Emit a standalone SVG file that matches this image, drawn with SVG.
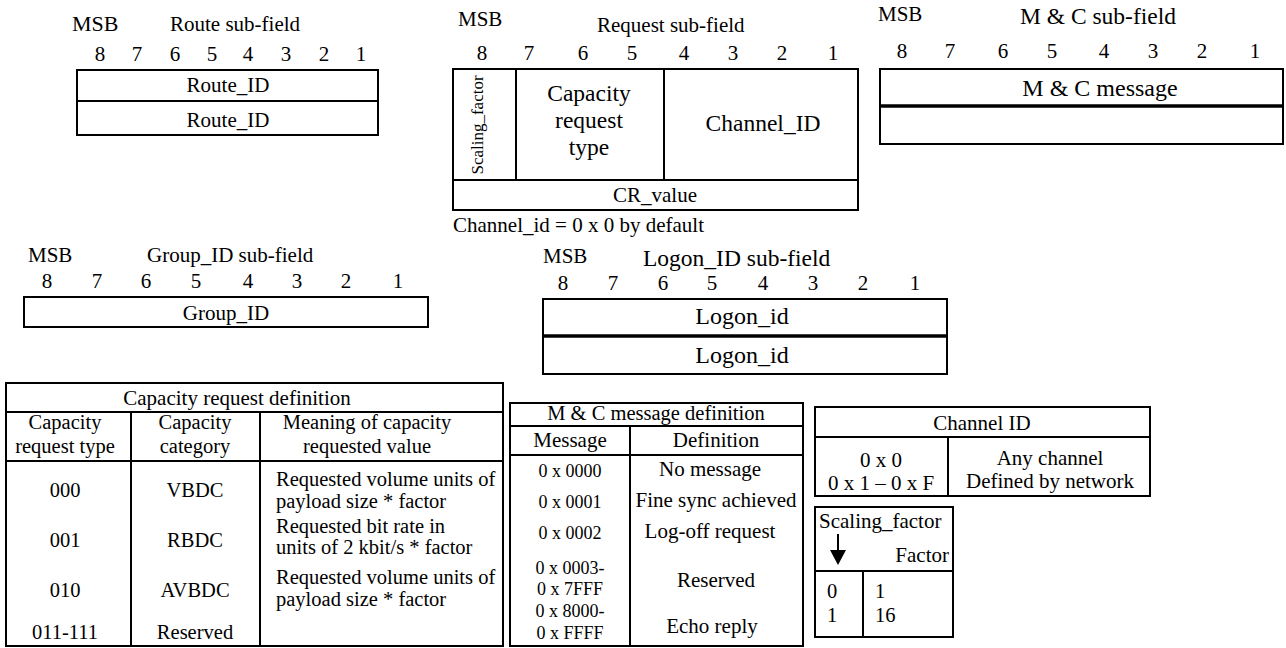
<svg xmlns="http://www.w3.org/2000/svg" width="1286" height="648" viewBox="0 0 1286 648">
<style>
text{font-family:"Liberation Serif","Times New Roman",serif;fill:#000;font-size:21px}
.c{text-anchor:middle}
.e{text-anchor:end}
.b{fill:none;stroke:#000;stroke-width:2}
.l{stroke:#000;stroke-width:2;fill:none}
.t{stroke:#000;stroke-width:3.5;fill:none}
.big{font-size:23.5px}
.s{font-size:18px}
.m{font-size:20.5px}
</style>
<rect width="1286" height="648" fill="#fff"/>

<g id="route">
<text x="72" y="31" style="font-size:22px">MSB</text>
<text x="170" y="31">Route sub-field</text>
<g class="c"><text x="100" y="61">8</text><text x="137" y="61">7</text><text x="175" y="61">6</text><text x="212" y="61">5</text><text x="248" y="61">4</text><text x="286" y="61">3</text><text x="324" y="61">2</text><text x="361" y="61">1</text></g>
<rect class="b" x="77" y="70" width="301" height="65"/>
<line class="l" x1="77" y1="101" x2="378" y2="101"/>
<text class="c" x="228" y="92">Route_ID</text>
<text class="c" x="228" y="127">Route_ID</text>
</g>

<g id="request">
<text x="458" y="26">MSB</text>
<text x="597" y="32">Request sub-field</text>
<g class="c"><text x="482" y="60">8</text><text x="529" y="60">7</text><text x="583" y="60">6</text><text x="632" y="60">5</text><text x="684" y="60">4</text><text x="733" y="60">3</text><text x="782" y="60">2</text><text x="833" y="60">1</text></g>
<rect class="b" x="453" y="69" width="405" height="141"/>
<line class="l" x1="453" y1="180" x2="858" y2="180"/>
<line class="l" x1="516" y1="69" x2="516" y2="180"/>
<line class="l" x1="664" y1="69" x2="664" y2="180"/>
<text class="c" transform="translate(483,125) rotate(-90)" style="font-size:17px">Scaling_factor</text>
<text class="c big" x="589" y="101">Capacity</text>
<text class="c big" x="589" y="128">request</text>
<text class="c big" x="589" y="155">type</text>
<text class="c big" x="763" y="131">Channel_ID</text>
<text class="c" x="655" y="202">CR_value</text>
<text x="453" y="232">Channel_id = 0 x 0 by default</text>
</g>

<g id="mc">
<text x="878" y="21">MSB</text>
<text class="big" x="1020" y="24">M &amp; C sub-field</text>
<g class="c"><text x="902" y="58">8</text><text x="950" y="58">7</text><text x="1003" y="58">6</text><text x="1052" y="58">5</text><text x="1104" y="58">4</text><text x="1153" y="58">3</text><text x="1202" y="58">2</text><text x="1255" y="58">1</text></g>
<rect class="b" x="880" y="69" width="403" height="75"/>
<line class="t" x1="880" y1="106" x2="1283" y2="106"/>
<text class="c" x="1100" y="96" style="font-size:24px">M &amp; C message</text>
</g>

<g id="group">
<text x="28" y="262">MSB</text>
<text x="147" y="262">Group_ID sub-field</text>
<g class="c"><text x="47" y="288">8</text><text x="97" y="288">7</text><text x="146" y="288">6</text><text x="196" y="288">5</text><text x="248" y="288">4</text><text x="297" y="288">3</text><text x="346" y="288">2</text><text x="398" y="288">1</text></g>
<rect class="b" x="24" y="297" width="404" height="30"/>
<text class="c" x="226" y="320">Group_ID</text>
</g>

<g id="logon">
<text x="543" y="263">MSB</text>
<text class="big" x="643" y="266">Logon_ID sub-field</text>
<g class="c"><text x="563" y="290">8</text><text x="613" y="290">7</text><text x="663" y="290">6</text><text x="712" y="290">5</text><text x="763" y="290">4</text><text x="813" y="290">3</text><text x="863" y="290">2</text><text x="915" y="290">1</text></g>
<rect class="b" x="543" y="299" width="404" height="75"/>
<line class="t" x1="543" y1="336" x2="947" y2="336"/>
<text class="c" x="742" y="324" style="font-size:24px">Logon_id</text>
<text class="c" x="742" y="363" style="font-size:24px">Logon_id</text>
</g>

<g id="capacity-table">
<rect class="b" x="6" y="383" width="497" height="263"/>
<line class="l" x1="6" y1="412" x2="503" y2="412"/>
<line class="l" x1="6" y1="461" x2="503" y2="461"/>
<line class="l" x1="131" y1="412" x2="131" y2="646"/>
<line class="l" x1="260" y1="412" x2="260" y2="646"/>
<text class="c" x="237" y="405">Capacity request definition</text>
<text class="c m" x="65" y="429">Capacity</text>
<text class="c m" x="65" y="453">request type</text>
<text class="c m" x="195" y="429">Capacity</text>
<text class="c m" x="195" y="453">category</text>
<text class="c m" x="367" y="429">Meaning of capacity</text>
<text class="c m" x="367" y="453">requested value</text>
<text class="c m" x="65" y="497">000</text>
<text class="c m" x="195" y="497">VBDC</text>
<text class="m" x="276" y="486">Requested volume units of</text>
<text class="m" x="276" y="508">payload size * factor</text>
<text class="c m" x="65" y="547">001</text>
<text class="c m" x="195" y="547">RBDC</text>
<text class="m" x="276" y="533">Requested bit rate in</text>
<text class="m" x="276" y="554">units of 2 kbit/s * factor</text>
<text class="c m" x="65" y="597">010</text>
<text class="c m" x="195" y="597">AVBDC</text>
<text class="m" x="276" y="584">Requested volume units of</text>
<text class="m" x="276" y="606">payload size * factor</text>
<text class="c m" x="65" y="639">011-111</text>
<text class="c m" x="195" y="639">Reserved</text>
</g>

<g id="mc-table">
<rect class="b" x="510" y="403" width="293" height="243"/>
<line class="l" x1="510" y1="426" x2="803" y2="426"/>
<line class="l" x1="510" y1="455" x2="803" y2="455"/>
<line class="l" x1="630" y1="426" x2="630" y2="646"/>
<text class="c m" x="656" y="420">M &amp; C message definition</text>
<text class="c" x="570" y="447">Message</text>
<text class="c" x="716" y="447">Definition</text>
<text class="c s" x="570" y="477">0 x 0000</text>
<text class="c s" x="570" y="508">0 x 0001</text>
<text class="c s" x="570" y="539">0 x 0002</text>
<text class="c s" x="570" y="574">0 x 0003-</text>
<text class="c s" x="570" y="595">0 x 7FFF</text>
<text class="c s" x="570" y="617">0 x 8000-</text>
<text class="c s" x="570" y="639">0 x FFFF</text>
<text class="c" x="710" y="476">No message</text>
<text class="c" x="716" y="507">Fine sync achieved</text>
<text class="c" x="710" y="538">Log-off request</text>
<text class="c" x="716" y="587">Reserved</text>
<text class="c" x="712" y="633">Echo reply</text>
</g>

<g id="channel-table">
<rect class="b" x="815" y="407" width="335" height="89"/>
<line class="l" x1="815" y1="437" x2="1150" y2="437"/>
<line class="l" x1="948" y1="437" x2="948" y2="496"/>
<text class="c" x="982" y="430">Channel ID</text>
<text class="c" x="881" y="467">0 x 0</text>
<text class="c" x="881" y="490">0 x 1 – 0 x F</text>
<text class="c" x="1050" y="465">Any channel</text>
<text class="c" x="1050" y="488">Defined by network</text>
</g>

<g id="scaling-table">
<rect class="b" x="815" y="507" width="138" height="130"/>
<line class="l" x1="815" y1="571" x2="953" y2="571"/>
<line class="l" x1="863" y1="571" x2="863" y2="637"/>
<text x="819" y="528">Scaling_factor</text>
<line class="l" x1="838" y1="534" x2="838" y2="552"/>
<polygon points="830,550 846,550 838,565" fill="#000"/>
<text class="e" x="949" y="562">Factor</text>
<text class="m" x="827" y="598">0</text>
<text class="m" x="827" y="622">1</text>
<text class="m" x="875" y="598">1</text>
<text class="m" x="875" y="622">16</text>
</g>

<g id="connectors"></g>
</svg>
